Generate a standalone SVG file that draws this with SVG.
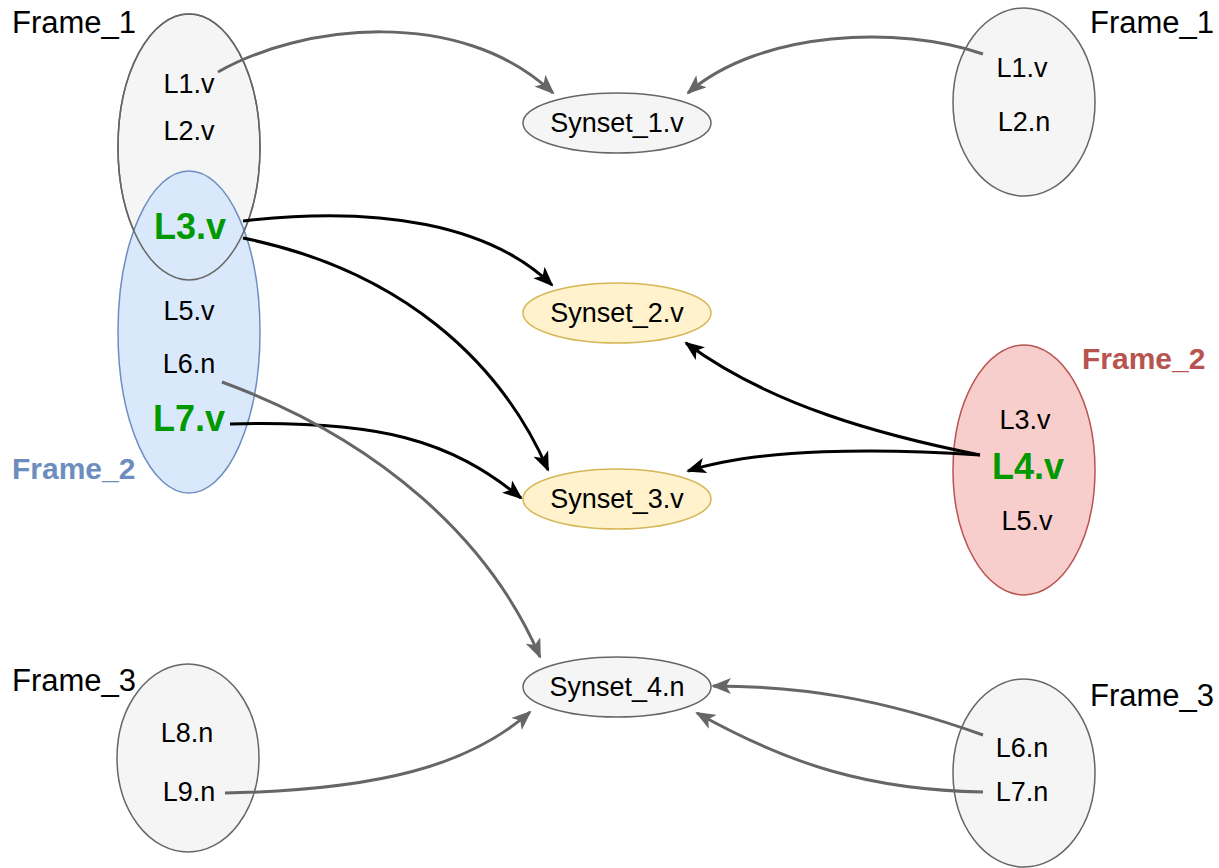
<svg xmlns="http://www.w3.org/2000/svg" width="1219" height="868" viewBox="0 0 1219 868">
<style>
text{font-family:"Liberation Sans",Arial,sans-serif;text-anchor:middle;dominant-baseline:central;fill:#000}
.lab{font-size:27px}
.big{font-size:36px;font-weight:bold;fill:#009900}
.fr{font-size:31px;text-anchor:start}
.frb{font-size:30px;font-weight:bold;text-anchor:start}
.gray{fill:#f5f5f5;stroke:#666666;stroke-width:1.5}
.blue{fill:#dae8fc;stroke:#6c8ebf;stroke-width:1.5}
.yel{fill:#fff2cc;stroke:#d6b656;stroke-width:1.5}
.red{fill:#f8cecc;stroke:#b85450;stroke-width:1.5}
.eg{fill:none;stroke:#666666;stroke-width:3}
.eb{fill:none;stroke:#000;stroke-width:3}
</style>
<defs>
<marker id="ag" markerUnits="userSpaceOnUse" viewBox="0 0 20 16" refX="18" refY="8" markerWidth="20" markerHeight="16" orient="auto">
<path d="M0,0 L20,8 L0,16 L5,8 Z" fill="#666666"/>
</marker>
<marker id="ab" markerUnits="userSpaceOnUse" viewBox="0 0 20 16" refX="18" refY="8" markerWidth="20" markerHeight="16" orient="auto">
<path d="M0,0 L20,8 L0,16 L5,8 Z" fill="#000"/>
</marker>
</defs>
<g id="frame1-left">
<ellipse class="gray" cx="189" cy="147" rx="71" ry="133"/>
</g>
<g id="frame2-left">
<ellipse class="blue" cx="189" cy="332" rx="71" ry="161"/>
<ellipse cx="189" cy="147" rx="71" ry="133" fill="none" stroke="#666666" stroke-width="1.5"/>
<text class="lab" x="189" y="84">L1.v</text>
<text class="lab" x="189" y="131">L2.v</text>
<text class="big" x="190" y="226">L3.v</text>
<text class="lab" x="189" y="311">L5.v</text>
<text class="lab" x="189" y="364">L6.n</text>
<text class="big" x="189" y="418">L7.v</text>
<text class="fr" x="12" y="22">Frame_1</text>
<text class="frb" x="12" y="468" style="fill:#6c8ebf">Frame_2</text>
</g>
<g id="frame3-left">
<ellipse class="gray" cx="188" cy="758" rx="71" ry="94"/>
<text class="lab" x="187" y="733">L8.n</text>
<text class="lab" x="189" y="792">L9.n</text>
<text class="fr" x="12" y="680">Frame_3</text>
</g>
<g id="frame1-right">
<ellipse class="gray" cx="1024" cy="102" rx="71" ry="94"/>
<text class="lab" x="1022" y="68">L1.v</text>
<text class="lab" x="1024" y="122">L2.n</text>
<text class="fr" x="1090" y="22">Frame_1</text>
</g>
<g id="frame2-right">
<ellipse class="red" cx="1024" cy="470" rx="71" ry="125"/>
<text class="lab" x="1025" y="420">L3.v</text>
<text class="big" x="1028" y="466">L4.v</text>
<text class="lab" x="1027" y="521">L5.v</text>
<text class="frb" x="1082" y="358" style="fill:#b85450">Frame_2</text>
</g>
<g id="frame3-right">
<ellipse class="gray" cx="1024" cy="773" rx="71" ry="94"/>
<text class="lab" x="1022" y="748">L6.n</text>
<text class="lab" x="1022" y="792">L7.n</text>
<text class="fr" x="1090" y="695">Frame_3</text>
</g>
<g id="synset1"><ellipse class="gray" cx="617" cy="123" rx="94" ry="30"/><text class="lab" x="617" y="123">Synset_1.v</text></g>
<g id="synset2"><ellipse class="yel" cx="617" cy="313" rx="94" ry="30"/><text class="lab" x="617" y="313">Synset_2.v</text></g>
<g id="synset3"><ellipse class="yel" cx="617" cy="499" rx="94" ry="30"/><text class="lab" x="617" y="499">Synset_3.v</text></g>
<g id="synset4"><ellipse class="gray" cx="617" cy="687" rx="94" ry="30"/><text class="lab" x="617" y="687">Synset_4.n</text></g>
<g id="connectors">
<path class="eg" marker-end="url(#ag)" d="M218 72 C300 25 460 5 553 93"/>
<path class="eg" marker-end="url(#ag)" d="M983 54 C900 25 760 30 688 93"/>
<path class="eb" marker-end="url(#ab)" d="M243 221 C380 205 490 225 552 285"/>
<path class="eb" marker-end="url(#ab)" d="M243 238 C400 270 500 360 548 470"/>
<path class="eb" marker-end="url(#ab)" d="M230 424 C380 420 450 440 521 498"/>
<path class="eg" marker-end="url(#ag)" d="M222 382 C380 440 490 540 540 657"/>
<path class="eb" marker-end="url(#ab)" d="M980 455 C880 435 770 405 686 343"/>
<path class="eb" marker-end="url(#ab)" d="M980 455 C880 448 760 448 688 471"/>
<path class="eg" marker-end="url(#ag)" d="M225 793 C380 790 470 765 530 712"/>
<path class="eg" marker-end="url(#ag)" d="M983 735 C880 698 800 686 713 686"/>
<path class="eg" marker-end="url(#ag)" d="M983 792 C870 790 790 765 697 713"/>
</g>
</svg>
